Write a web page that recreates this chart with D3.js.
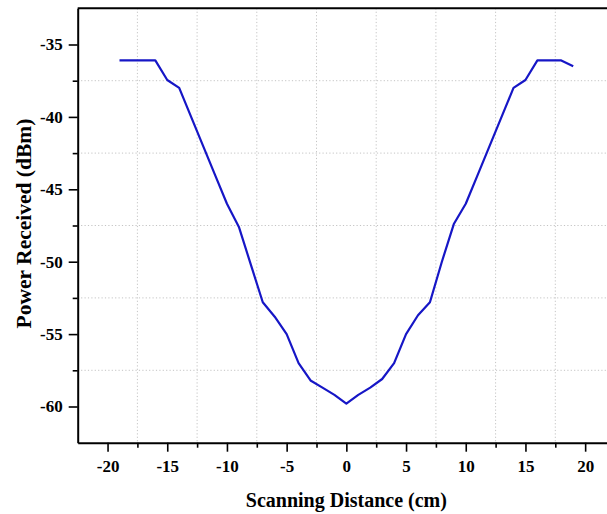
<!DOCTYPE html>
<html>
<head>
<meta charset="utf-8">
<script src="https://cdn.jsdelivr.net/npm/d3@7"></script>
<style>
  html, body { margin: 0; padding: 0; background: #fff; }
  svg { display: block; }
  text { font-family: "Liberation Serif", "Times New Roman", serif; font-weight: bold; fill: #000; }
</style>
</head>
<body>
<svg id="chart" width="607" height="514"></svg>
<script>
// Scan position (cm) and received power (dBm)
const distance = [-19, -18, -17, -16, -15, -14, -13, -12, -11, -10, -9, -8, -7, -6, -5, -4, -3, -2, -1, 0,
                  1, 2, 3, 4, 5, 6, 7, 8, 9, 10, 11, 12, 13, 14, 15, 16, 17, 18, 19];
const power = [-36.1, -36.1, -36.1, -36.1, -37.45, -38.0, -40.0, -42.0, -44.0, -46.0, -47.6, -50.2, -52.8, -53.8, -55.0, -57.0, -58.2, -58.7, -59.2, -59.8,
               -59.2, -58.7, -58.1, -57.0, -55.0, -53.7, -52.8, -50.0, -47.4, -46.0, -44.0, -42.0, -40.0, -38.0, -37.45, -36.1, -36.1, -36.1, -36.5];

const xTicks = [-20, -15, -10, -5, 0, 5, 10, 15, 20];
const xMinor = [-17.5, -12.5, -7.5, -2.5, 2.5, 7.5, 12.5, 17.5];
const yTicks = [-35, -40, -45, -50, -55, -60];
const yMinor = [-37.5, -42.5, -47.5, -52.5, -57.5];
const xDomain = [-22.5, 22.5];
const yDomain = [-62.5, -32.5];
const xTitle = "Scanning Distance (cm)";
const yTitle = "Power Received (dBm)";

const svg = d3.select("#chart");
const plot = { left: 77.7, right: 615, top: 8.3, bottom: 442.7 };

const x = d3.scaleLinear().domain(xDomain).range([plot.left, plot.right]);
const y = d3.scaleLinear().domain(yDomain).range([plot.bottom, plot.top]);

// dotted grid on the minor positions
const grid = svg.append("g").attr("stroke", "#c4c4c4").attr("stroke-width", 1).attr("stroke-dasharray", "1.2,2.2");
grid.selectAll("line.v").data(xMinor).join("line").attr("class", "v")
  .attr("x1", d => x(d)).attr("x2", d => x(d)).attr("y1", plot.top).attr("y2", plot.bottom);
grid.selectAll("line.h").data(yMinor).join("line").attr("class", "h")
  .attr("y1", d => y(d)).attr("y2", d => y(d)).attr("x1", plot.left).attr("x2", plot.right);

// data line
const pts = distance.map((d, i) => [d, power[i]]);
svg.append("path")
  .datum(pts)
  .attr("fill", "none")
  .attr("stroke", "#1616c6")
  .attr("stroke-width", 2.2)
  .attr("stroke-linejoin", "round")
  .attr("d", d3.line().x(d => x(d[0])).y(d => y(d[1])));

// frame (top and right)
svg.append("line").attr("x1", plot.left).attr("x2", plot.right).attr("y1", plot.top).attr("y2", plot.top)
  .attr("stroke", "#000").attr("stroke-width", 2);
svg.append("line").attr("x1", plot.right).attr("x2", plot.right).attr("y1", plot.top).attr("y2", plot.bottom)
  .attr("stroke", "#000").attr("stroke-width", 2);

function styleAxis(g) {
  g.select(".domain").attr("stroke", "#000").attr("stroke-width", 2);
  g.selectAll(".tick line").attr("stroke", "#000").attr("stroke-width", 1.6);
  g.selectAll(".tick text").attr("font-size", "17px")
    .style("font-family", "'Liberation Serif', 'Times New Roman', serif").style("font-weight", "bold");
}

// x axis: minor then major
svg.append("g").attr("transform", `translate(0,${plot.bottom})`)
  .call(d3.axisBottom(x).tickValues(xMinor).tickSize(5).tickFormat(""))
  .call(g => g.select(".domain").remove())
  .call(g => g.selectAll(".tick line").attr("stroke", "#000").attr("stroke-width", 1.6));
svg.append("g").attr("transform", `translate(0,${plot.bottom})`)
  .call(d3.axisBottom(x).tickValues(xTicks).tickSize(9).tickSizeOuter(0).tickPadding(8).tickFormat(d => String(d)))
  .call(styleAxis);

// y axis: minor then major
svg.append("g").attr("transform", `translate(${plot.left},0)`)
  .call(d3.axisLeft(y).tickValues(yMinor).tickSize(5).tickFormat(""))
  .call(g => g.select(".domain").remove())
  .call(g => g.selectAll(".tick line").attr("stroke", "#000").attr("stroke-width", 1.6));
svg.append("g").attr("transform", `translate(${plot.left},0)`)
  .call(d3.axisLeft(y).tickValues(yTicks).tickSize(9).tickSizeOuter(0).tickPadding(6).tickFormat(d => String(d)))
  .call(styleAxis);

// axis titles
svg.append("text")
  .attr("x", x(0)).attr("y", 506.5)
  .attr("text-anchor", "middle")
  .attr("font-size", "20px")
  .text(xTitle);
svg.append("text")
  .attr("transform", `translate(31,${(plot.top + plot.bottom) / 2 - 2}) rotate(-90)`)
  .attr("text-anchor", "middle")
  .attr("font-size", "21.5px")
  .text(yTitle);
</script>
</body>
</html>
